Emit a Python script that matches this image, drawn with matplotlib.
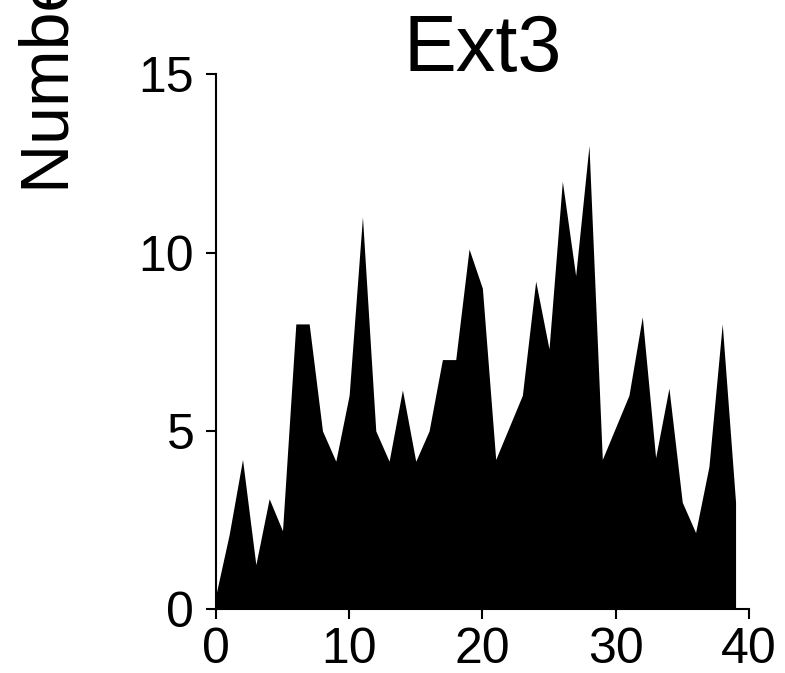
import matplotlib
matplotlib.use("Agg")
import matplotlib.pyplot as plt
import numpy as np

# values
position = np.arange(40)
counts = [0.4, 2.1, 4.2, 1.25, 3.1, 2.2, 8.0, 8.0, 5.0, 4.15,
          6.0, 11.0, 5.0, 4.15, 6.15, 4.15, 5.0, 7.0, 7.0, 10.1,
          9.0, 4.2, 5.1, 6.0, 9.2, 7.3, 12.0, 9.35, 13.0, 4.2,
          5.1, 6.0, 8.2, 4.25, 6.2, 3.0, 2.15, 4.0, 8.0, 3.0]
title = "Ext3"
ylabel = "Number of cells"
xticks = [0, 10, 20, 30, 40]
yticks = [0, 5, 10, 15]


def main():
    plt.rcParams["font.family"] = ["Liberation Sans", "DejaVu Sans"]
    fig = plt.figure(figsize=(7.85, 6.73), dpi=100)
    ax = fig.add_axes([0.275, 0.0947, 0.679, 0.795])

    ax.fill_between(position, counts, 0, color="black", lw=0)

    ax.set_xlim(0, 40)
    ax.set_ylim(0, 15)
    ax.set_xticks(xticks)
    ax.set_yticks(yticks)
    ax.spines["top"].set_visible(False)
    ax.spines["right"].set_visible(False)
    for s in ("left", "bottom"):
        ax.spines[s].set_linewidth(1.5)
    ax.tick_params(axis="both", length=7.5, width=1.5, labelsize=36)
    ax.tick_params(axis="y", pad=8)
    ax.tick_params(axis="x", pad=5)

    ax.set_title(title, fontsize=57, y=1.0, pad=2.5)
    fig.text(0.064, 0.713, ylabel, rotation=90, fontsize=49,
             ha="center", va="bottom")

    fig.savefig("out.png", dpi=100)
    plt.close(fig)


if __name__ == "__main__":
    main()
